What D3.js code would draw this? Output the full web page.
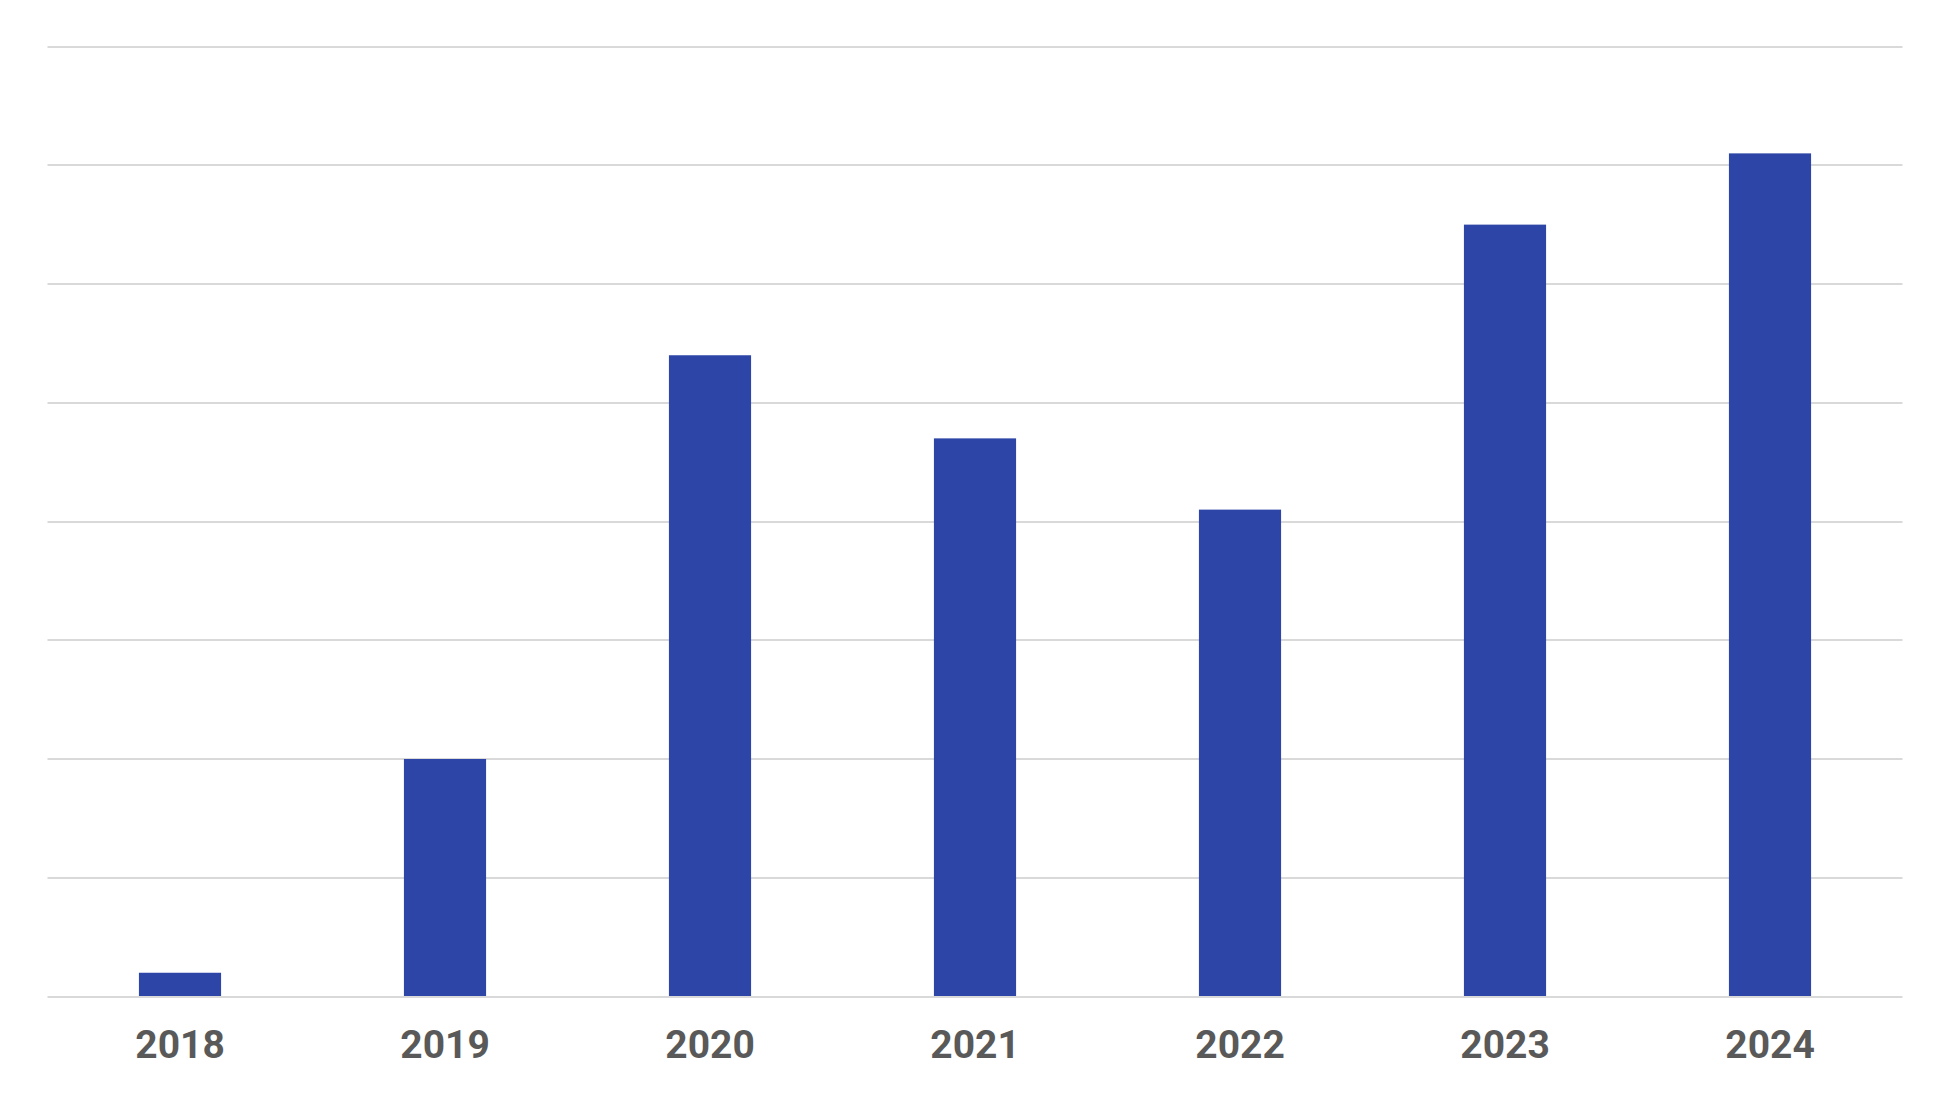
<!DOCTYPE html>
<html>
<head>
<meta charset="utf-8">
<script src="https://cdn.jsdelivr.net/npm/d3@7"></script>
<style>
html,body{margin:0;padding:0;background:#fff;}
svg{display:block;}
</style>
</head>
<body>
<svg id="chart" width="1950" height="1096"></svg>
<script>
const categories = ["2018","2019","2020","2021","2022","2023","2024"];
const values = [0.2, 2.0, 5.4, 4.7, 4.1, 6.5, 7.1];
const yTicks = [0,1,2,3,4,5,6,7,8];

const svg = d3.select("#chart");
const margin = {left:47.5, right:47.5, top:46.5, bottom:99.5};
const W = 1950, H = 1096;

const x = d3.scaleBand().domain(categories)
  .range([margin.left, W - margin.right])
  .paddingInner(0.69).paddingOuter(0.345);
const y = d3.scaleLinear().domain([0,8]).range([H - margin.bottom, margin.top]);

svg.append("g").selectAll("line").data(yTicks).join("line")
  .attr("x1", margin.left).attr("x2", W - margin.right)
  .attr("y1", d => Math.round(y(d))).attr("y2", d => Math.round(y(d)))
  .attr("stroke", "#d9d9d9").attr("stroke-width", 2);

svg.append("g").selectAll("rect").data(values).join("rect")
  .attr("x", (d,i) => x(categories[i]))
  .attr("width", x.bandwidth())
  .attr("y", d => y(d))
  .attr("height", d => Math.round(y(0)) - 1 - y(d))
  .attr("fill", "#2c45a6");

const xAxis = d3.axisBottom(x).tickSize(0).tickPadding(0);
const gx = svg.append("g").attr("transform", `translate(0,${y(0)})`).call(xAxis);
gx.select(".domain").remove();
gx.selectAll("text")
  .attr("y", 61).attr("dy", null)
  .attr("font-family", "Roboto")
  .attr("font-weight", "bold")
  .attr("font-size", 39)
  .attr("fill", "#595959");
</script>
</body>
</html>
